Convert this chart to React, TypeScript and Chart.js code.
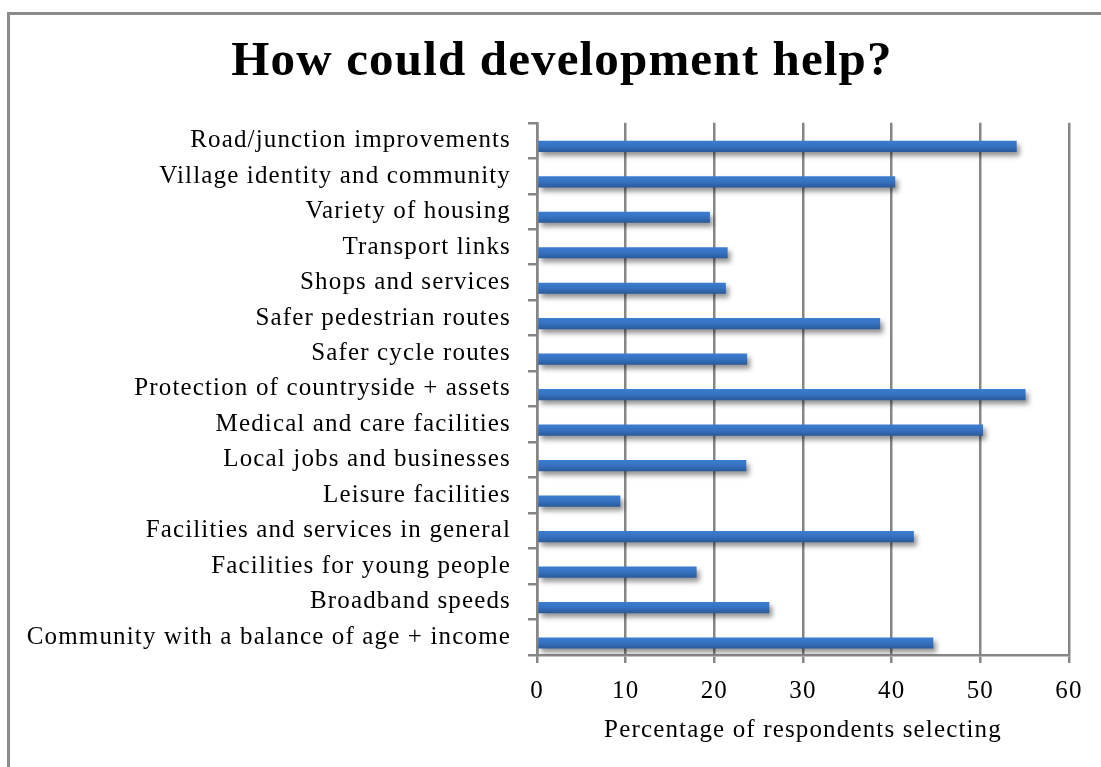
import React, { useEffect, useRef } from "react";
import { Chart, registerables } from "chart.js";

Chart.register(...registerables);

const chartTitle = "How could development help?";
const axisTitle = "Percentage of respondents selecting";

const categories = [
  "Road/junction improvements",
  "Village identity and community",
  "Variety of housing",
  "Transport links",
  "Shops and services",
  "Safer pedestrian routes",
  "Safer cycle routes",
  "Protection of countryside + assets",
  "Medical and care facilities",
  "Local jobs and businesses",
  "Leisure facilities",
  "Facilities and services in general",
  "Facilities for young people",
  "Broadband speeds",
  "Community with a balance of age + income",
];

const percentages = [54.1, 40.4, 19.5, 21.5, 21.3, 38.7, 23.7, 55.1, 50.3, 23.6, 9.4, 42.5, 18.0, 26.2, 44.7];

// empty first series (as in the source workbook), keeps bars in the lower half of each row
const emptySeries = [null, null, null, null, null, null, null, null, null, null, null, null, null, null, null];

const xTicks = [0, 10, 20, 30, 40, 50, 60];

const FONT = "'Liberation Serif', serif";
const GRID = "#868686";

const barStyle = {
  id: "barStyle",
  beforeDatasetsDraw(chart: any) {
    const ctx = chart.ctx;
    const meta = chart.getDatasetMeta(1);
    meta.data.forEach((el: any) => {
      const h = el.height;
      const g = ctx.createLinearGradient(0, el.y - h / 2, 0, el.y + h / 2);
      g.addColorStop(0, "#3c7dd0");
      g.addColorStop(0.5, "#3571c0");
      g.addColorStop(1, "#2a5a99");
      el.options = Object.assign({}, el.options, { backgroundColor: g });
    });
    ctx.save();
    ctx.shadowColor = "rgba(0,0,0,0.42)";
    ctx.shadowBlur = 5;
    ctx.shadowOffsetX = 3;
    ctx.shadowOffsetY = 4;
  },
  afterDatasetsDraw(chart: any) {
    chart.ctx.restore();
  },
};

const spacing = {
  id: "spacing",
  beforeInit(chart: any) {
    chart.ctx.letterSpacing = "1.15px";
  },
  beforeUpdate(chart: any) {
    chart.ctx.letterSpacing = "1.15px";
  },
  beforeDraw(chart: any) {
    chart.ctx.letterSpacing = "1.15px";
  },
};

export default function App() {
  const ref = useRef<HTMLCanvasElement | null>(null);

  useEffect(() => {
    if (!ref.current) return;
    const chart = new Chart(ref.current, {
      type: "bar",
      data: {
        labels: categories,
        datasets: [
          { label: "", data: emptySeries as any, backgroundColor: "#3571c0" },
          { label: "Percentage", data: percentages, backgroundColor: "#3571c0", borderWidth: 0 },
        ],
      },
      options: {
        indexAxis: "y",
        animation: false,
        responsive: false,
        maintainAspectRatio: false,
        datasets: { bar: { categoryPercentage: 0.65, barPercentage: 0.97 } },
        layout: { padding: { left: 55, right: 56, top: 0, bottom: 0 } },
        plugins: {
          legend: { display: false },
          tooltip: { enabled: false },
          title: {
            display: true,
            text: chartTitle,
            color: "#000",
            font: { family: FONT, size: 49, weight: "bold", lineHeight: 1.2 },
            padding: { top: 33, bottom: 31 },
          },
        },
        scales: {
          x: {
            min: 0,
            max: 60,
            afterBuildTicks(scale: any) {
              scale.ticks = xTicks.map((v) => ({ value: v }));
            },
            afterFit(scale: any) {
              scale.height = 112;
            },
            grid: { color: GRID, lineWidth: 2.5, drawTicks: true, tickLength: 8, drawOnChartArea: true },
            border: { display: true, color: GRID, width: 2.5 },
            ticks: { color: "#000", font: { family: FONT, size: 25 }, padding: 13 },
            title: {
              display: true,
              text: axisTitle,
              color: "#000",
              font: { family: FONT, size: 25 },
              padding: { top: 4, bottom: 22 },
            },
          },
          y: {
            afterFit(scale: any) {
              scale.width = 482;
              // let long category labels run into the left margin instead of being clipped
              scale._computeLabelArea = () => undefined;
            },
            grid: { color: GRID, lineWidth: 2.5, drawOnChartArea: false, drawTicks: true, tickLength: 9, offset: true },
            border: { display: true, color: GRID, width: 2.5 },
            ticks: { color: "#000", font: { family: FONT, size: 25 }, padding: 17, autoSkip: false },
          },
        },
      },
      plugins: [barStyle, spacing],
    });
    return () => chart.destroy();
  }, []);

  return (
    <div style={{ position: "fixed", left: 0, top: 0, width: 1101, height: 767, overflow: "hidden", background: "#fff" }}>
      <div
        style={{
          position: "absolute",
          left: 7,
          top: 12,
          width: 1130,
          height: 800,
          border: "3px solid #8c8c8c",
          boxSizing: "border-box",
        }}
      />
      <canvas
        ref={ref}
        width={1125}
        height={767}
        style={{ position: "absolute", left: 0, top: 0, width: 1125, height: 767 }}
      />
    </div>
  );
}
